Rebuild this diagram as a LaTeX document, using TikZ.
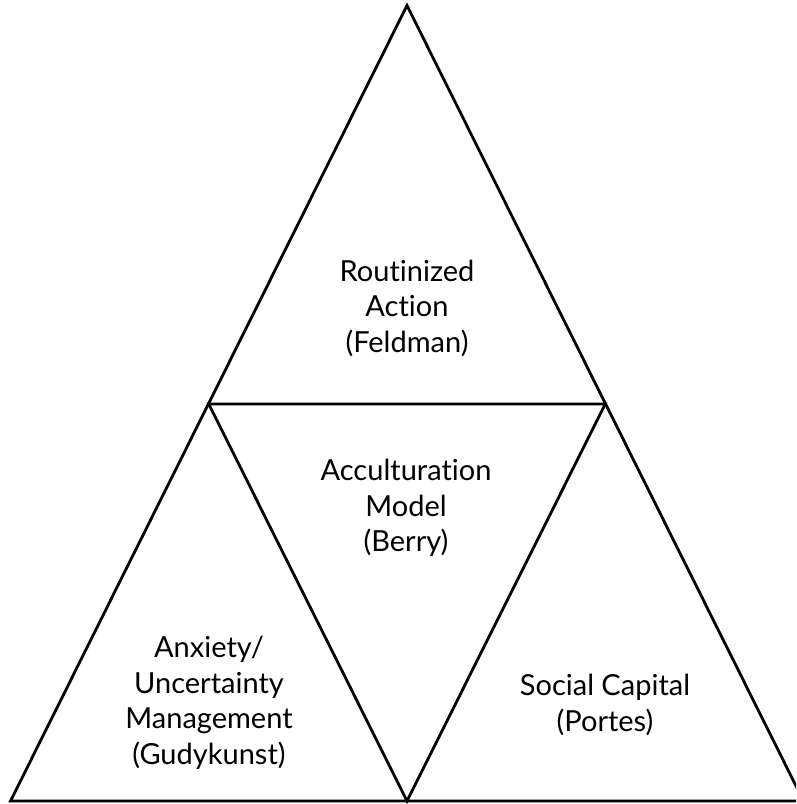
\documentclass[tikz,border=0pt]{standalone}
\usepackage{fontspec}
\setmainfont{Lato}[Ligatures=NoCommon]
\begin{document}
\begin{tikzpicture}[x=1pt,y=-1pt,
  edge/.style={line width=2.8pt,line join=miter,black},
  label/.style={align=center,font=\fontsize{29}{35.5}\selectfont,inner sep=0pt,text=black}]
\useasboundingbox (0,0) rectangle (796,804);
\clip (0,0) rectangle (796,804);
\coordinate (top) at (407,5.5);
\coordinate (bl) at (10.5,801);
\coordinate (br) at (803.5,801);
\coordinate (ml) at (208.75,404);
\coordinate (mr) at (605.25,404);
\coordinate (bm) at (407,801);
\draw[edge] (top) -- (bl) -- (br) -- cycle;
\draw[edge] (ml) -- (mr) -- (bm) -- cycle;
\node[label] (routine) at (407,308) {Routinized\\Action\\(Feldman)};
\node[label] (accult) at (406,508) {Acculturation\\Model\\(Berry)};
\node[label] (anxiety) at (209,703) {Anxiety/\\Uncertainty\\Management\\(Gudykunst)};
\node[label] (social) at (605,705) {Social Capital\\(Portes)};
\end{tikzpicture}
\end{document}
